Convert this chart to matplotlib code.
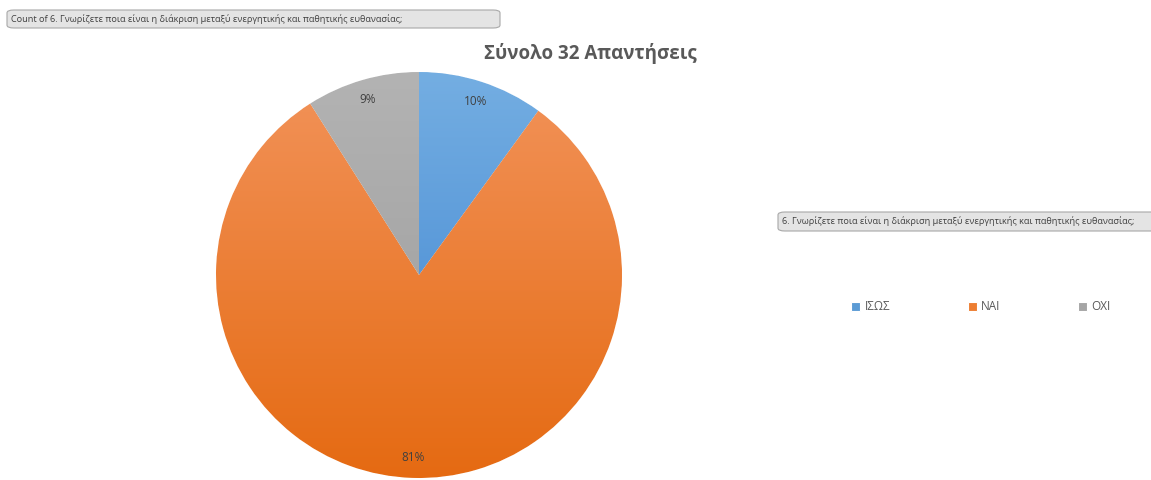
import numpy as np
import matplotlib
matplotlib.use("Agg")
import matplotlib.pyplot as plt
from matplotlib.patches import FancyBboxPatch
from matplotlib.colors import LinearSegmentedColormap

plt.rcParams['font.family'] = ['Open Sans', 'DejaVu Sans']

# answers to question 6 (percent of 32 responses)
labels = ["ΙΣΩΣ", "ΝΑΙ", "ΟΧΙ"]
percents = [10, 81, 9]
colors = ["#5B9BD5", "#ED7D31", "#A5A5A5"]
# lighter top / darker bottom shade of each slice
shade_top = ["#74AEE2", "#F2935A", "#B3B3B3"]
shade_bottom = ["#3C82CF", "#E56A12", "#9A9A9A"]

title = "Σύνολο 32 Απαντήσεις"
field_value = "Count of 6. Γνωρίζετε ποια είναι η διάκριση μεταξύ ενεργητικής και παθητικής ευθανασίας;"
field_axis = "6. Γνωρίζετε ποια είναι η διάκριση μεταξύ ενεργητικής και παθητικής ευθανασίας;"

W, H = 1151, 480
fig = plt.figure(figsize=(W / 100, H / 100), dpi=100)
fig.patch.set_facecolor("white")


def fx(px):
    return px / W


def fy(py):
    return 1 - py / H


# pie
ax = fig.add_axes([fx(215), fy(479), fx(408), 408 / H])
wedges, texts, autotexts = ax.pie(
    percents, colors=colors, startangle=90, counterclock=False,
    autopct="%.0f%%", pctdistance=0.9,
    wedgeprops=dict(edgecolor="white", linewidth=0.8),
    textprops=dict(color="#404040", fontsize=8.5))
ax.set_xlim(-1.005, 1.005)
ax.set_ylim(-1.005, 1.005)
ax.set_aspect("equal")
ax.axis("off")

grad = np.linspace(0, 1, 256).reshape(-1, 1)
for w, c0, c1 in zip(wedges, shade_top, shade_bottom):
    cmap = LinearSegmentedColormap.from_list("s", [c0, c1])
    im = ax.imshow(grad, cmap=cmap, extent=(-1, 1, -1, 1), origin="upper",
                   aspect="auto", zorder=1.5)
    im.set_clip_path(w)
for t in autotexts:
    t.set_zorder(3)

fig.text(fx(590), fy(53), title, ha="center", va="center",
         fontsize=13.5, fontweight="bold", color="#595959")


# pivot field buttons
def field_button(x0, y0, x1, y1, text):
    box = FancyBboxPatch((fx(x0), fy(y1)), fx(x1 - x0), (y1 - y0) / H,
                         boxstyle="round,pad=0,rounding_size=0.006",
                         transform=fig.transFigure, facecolor="#E4E4E4",
                         edgecolor="#A8A8A8", linewidth=0.8, clip_on=False)
    fig.add_artist(box)
    fig.text(fx(x0 + 4), fy((y0 + y1) / 2), text, ha="left", va="center",
             fontsize=6.6, color="#404040")


field_button(7, 10, 500, 28, field_value)
field_button(778, 212, 1160, 231, field_axis)

leg = fig.legend(wedges, labels, loc="center", ncol=3, frameon=False,
                 bbox_to_anchor=(fx(981), fy(307)), fontsize=8.5,
                 handlelength=0.75, handleheight=0.75, handletextpad=0.35,
                 columnspacing=6.6)
for t in leg.get_texts():
    t.set_color("#595959")

fig.savefig("out.png", dpi=100, facecolor="white")
